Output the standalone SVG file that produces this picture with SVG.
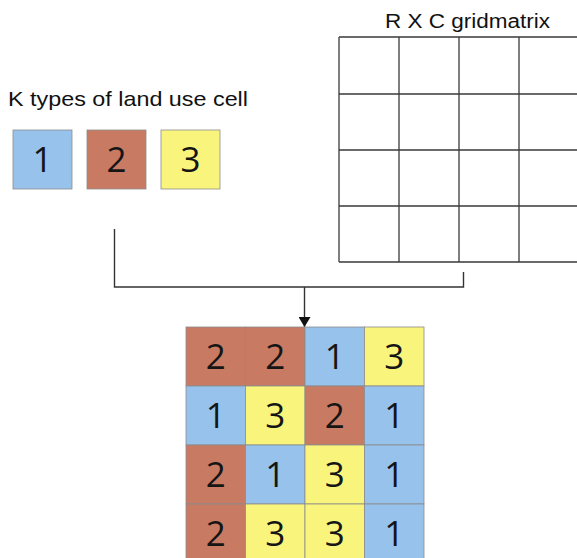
<svg xmlns="http://www.w3.org/2000/svg" width="577" height="558" viewBox="0 0 577 558">
<defs>
<style>
.lbl{font-family:"Liberation Sans",Arial,sans-serif;fill:#111}
.num{font-family:"Open Sans","Noto Sans",sans-serif;font-size:35px;font-weight:500;fill:#151515;text-anchor:middle}
.c1{fill:#96c2eb}
.c2{fill:#c87a62}
.c3{fill:#f9f57c}
.cell{stroke:#8c8c8c;stroke-width:0.8}
.grid{fill:none;stroke:#3a3a3a;stroke-width:1.3}
.conn{fill:none;stroke:#333;stroke-width:1.4}
</style>
<marker id="arr" viewBox="0 0 10 12" refX="10" refY="6" markerWidth="10" markerHeight="12" markerUnits="userSpaceOnUse" orient="auto">
<path d="M0,0 L10,6 L0,12 Z" fill="#111"/>
</marker>
</defs>
<rect width="577" height="558" fill="#fff"/>

<g id="types-label"><text class="lbl" x="8" y="106" font-size="21" textLength="240" lengthAdjust="spacingAndGlyphs">K types of land use cell</text></g>

<g id="type1"><rect class="c1 cell" x="13" y="130" width="59" height="59"/><text class="num" x="42.5" y="172">1</text></g>
<g id="type2"><rect class="c2 cell" x="87" y="130" width="59" height="59"/><text class="num" x="116.5" y="172">2</text></g>
<g id="type3"><rect class="c3 cell" x="161" y="130" width="59" height="59"/><text class="num" x="190.5" y="172">3</text></g>

<g id="rc-grid">
<text class="lbl" x="385" y="28" font-size="20" textLength="165" lengthAdjust="spacingAndGlyphs">R X C gridmatrix</text>
<path class="grid" d="M339,37 H580 M339,94 H580 M339,150 H580 M339,206 H580 M339,262 H580 M339,37 V262 M399,37 V262 M459,37 V262 M519,37 V262"/>
</g>

<g id="connectors">
<path class="conn" d="M114.5,229 V287 H463.5 V272"/>
<path class="conn" d="M304.5,287 V327" marker-end="url(#arr)"/>
</g>

<g id="result-grid">
<rect class="c2 cell" x="186" y="327" width="59.5" height="59"/>
<rect class="c2 cell" x="245.5" y="327" width="59.5" height="59"/>
<rect class="c1 cell" x="305" y="327" width="59.5" height="59"/>
<rect class="c3 cell" x="364.5" y="327" width="59.5" height="59"/>
<rect class="c1 cell" x="186" y="386" width="59.5" height="59"/>
<rect class="c3 cell" x="245.5" y="386" width="59.5" height="59"/>
<rect class="c2 cell" x="305" y="386" width="59.5" height="59"/>
<rect class="c1 cell" x="364.5" y="386" width="59.5" height="59"/>
<rect class="c2 cell" x="186" y="445" width="59.5" height="59"/>
<rect class="c1 cell" x="245.5" y="445" width="59.5" height="59"/>
<rect class="c3 cell" x="305" y="445" width="59.5" height="59"/>
<rect class="c1 cell" x="364.5" y="445" width="59.5" height="59"/>
<rect class="c2 cell" x="186" y="504" width="59.5" height="59"/>
<rect class="c3 cell" x="245.5" y="504" width="59.5" height="59"/>
<rect class="c3 cell" x="305" y="504" width="59.5" height="59"/>
<rect class="c1 cell" x="364.5" y="504" width="59.5" height="59"/>
<text class="num" x="215.75" y="369">2</text>
<text class="num" x="275.25" y="369">2</text>
<text class="num" x="334.75" y="369">1</text>
<text class="num" x="394.25" y="369">3</text>
<text class="num" x="215.75" y="428">1</text>
<text class="num" x="275.25" y="428">3</text>
<text class="num" x="334.75" y="428">2</text>
<text class="num" x="394.25" y="428">1</text>
<text class="num" x="215.75" y="487">2</text>
<text class="num" x="275.25" y="487">1</text>
<text class="num" x="334.75" y="487">3</text>
<text class="num" x="394.25" y="487">1</text>
<text class="num" x="215.75" y="546">2</text>
<text class="num" x="275.25" y="546">3</text>
<text class="num" x="334.75" y="546">3</text>
<text class="num" x="394.25" y="546">1</text>
</g>
</svg>
